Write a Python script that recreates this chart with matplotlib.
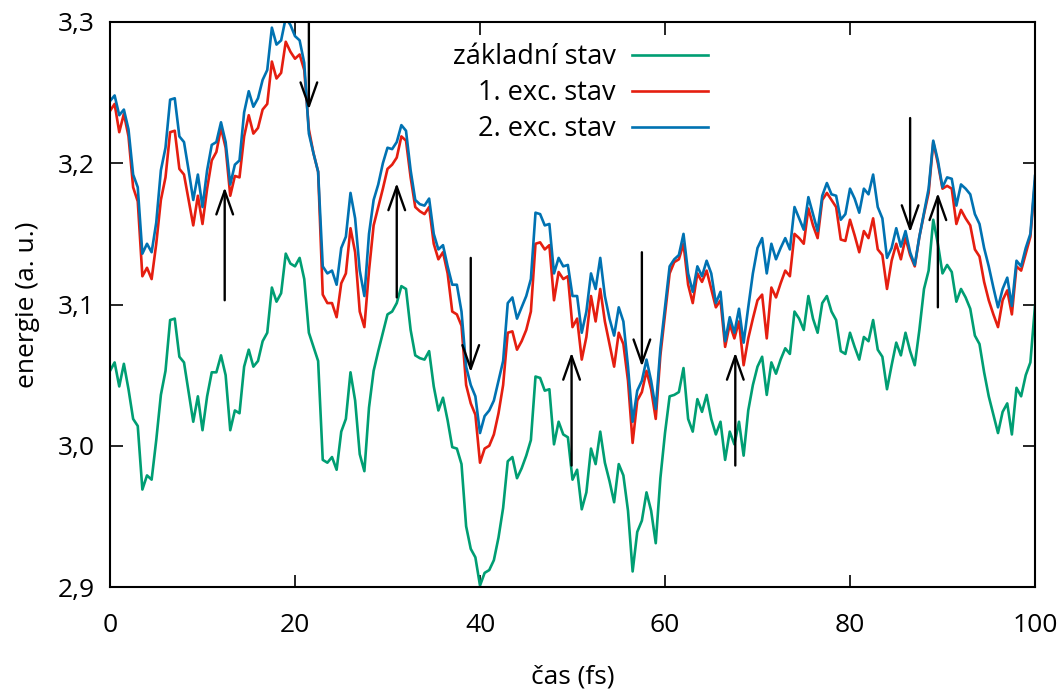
#Energie tri stavu v zavislosti na case, sipky znaci preskoky mezi stavy

import numpy as np
import matplotlib.pyplot as plt
from matplotlib.ticker import FuncFormatter

plt.rcParams['font.family'] = ['Open Sans', 'DejaVu Sans']

#casovy krok simulace (fs), hodnoty jsou po 0.5 fs od 0 do 100
dt = 0.5

#zakladni stav
ground = [3.053, 3.059, 3.042, 3.058, 3.040, 3.019, 3.014, 2.969, 2.979, 2.976,
          3.004, 3.036, 3.053, 3.089, 3.090, 3.063, 3.059, 3.038, 3.017, 3.035,
          3.011, 3.035, 3.052, 3.052, 3.064, 3.050, 3.011, 3.025, 3.023, 3.056,
          3.068, 3.056, 3.060, 3.074, 3.080, 3.112, 3.102, 3.108, 3.136, 3.129,
          3.127, 3.133, 3.118, 3.080, 3.070, 3.060, 2.990, 2.988, 2.992, 2.983,
          3.010, 3.019, 3.052, 3.032, 2.994, 2.982, 3.027, 3.053, 3.067, 3.080,
          3.093, 3.095, 3.101, 3.113, 3.111, 3.082, 3.064, 3.062, 3.061, 3.067,
          3.042, 3.025, 3.034, 3.018, 2.999, 2.998, 2.987, 2.943, 2.927, 2.921,
          2.901, 2.910, 2.912, 2.919, 2.935, 2.956, 2.989, 2.992, 2.977, 2.984,
          2.993, 3.004, 3.049, 3.048, 3.039, 3.040, 3.001, 3.017, 3.008, 3.006,
          2.976, 2.983, 2.955, 2.967, 2.998, 2.987, 3.010, 2.988, 2.975, 2.960,
          2.987, 2.979, 2.954, 2.911, 2.939, 2.947, 2.967, 2.954, 2.931, 2.977,
          3.009, 3.035, 3.036, 3.038, 3.055, 3.019, 3.010, 3.033, 3.024, 3.036,
          3.019, 3.008, 3.017, 2.990, 3.010, 3.001, 3.017, 2.993, 3.025, 3.043,
          3.056, 3.063, 3.036, 3.059, 3.051, 3.061, 3.069, 3.065, 3.095, 3.090,
          3.082, 3.106, 3.090, 3.080, 3.101, 3.106, 3.095, 3.089, 3.067, 3.065,
          3.080, 3.070, 3.061, 3.077, 3.074, 3.089, 3.068, 3.063, 3.040, 3.057,
          3.073, 3.064, 3.080, 3.067, 3.057, 3.082, 3.111, 3.124, 3.160, 3.143,
          3.122, 3.128, 3.123, 3.102, 3.111, 3.105, 3.097, 3.078, 3.072, 3.052,
          3.035, 3.022, 3.009, 3.024, 3.030, 3.008, 3.041, 3.035, 3.050, 3.059,
          3.099]

#1. excitovany stav
exc1 = [3.237, 3.242, 3.222, 3.235, 3.219, 3.183, 3.173, 3.120, 3.126, 3.118,
        3.143, 3.174, 3.190, 3.222, 3.223, 3.196, 3.192, 3.174, 3.156, 3.177,
        3.157, 3.182, 3.202, 3.208, 3.225, 3.211, 3.177, 3.191, 3.190, 3.219,
        3.234, 3.221, 3.225, 3.238, 3.242, 3.272, 3.260, 3.264, 3.286, 3.279,
        3.274, 3.277, 3.266, 3.224, 3.207, 3.194, 3.107, 3.101, 3.101, 3.091,
        3.115, 3.122, 3.154, 3.137, 3.095, 3.084, 3.124, 3.156, 3.169, 3.182,
        3.196, 3.199, 3.204, 3.219, 3.216, 3.190, 3.169, 3.166, 3.164, 3.169,
        3.143, 3.132, 3.137, 3.122, 3.095, 3.093, 3.085, 3.043, 3.030, 3.022,
        2.988, 2.998, 3.000, 3.008, 3.023, 3.043, 3.080, 3.081, 3.068, 3.074,
        3.082, 3.095, 3.143, 3.144, 3.139, 3.142, 3.103, 3.123, 3.118, 3.120,
        3.084, 3.090, 3.061, 3.077, 3.106, 3.088, 3.111, 3.088, 3.072, 3.056,
        3.080, 3.072, 3.046, 3.002, 3.032, 3.038, 3.053, 3.040, 3.019, 3.064,
        3.093, 3.122, 3.130, 3.132, 3.143, 3.114, 3.101, 3.122, 3.116, 3.124,
        3.111, 3.098, 3.103, 3.070, 3.086, 3.076, 3.088, 3.057, 3.076, 3.090,
        3.103, 3.107, 3.076, 3.112, 3.105, 3.115, 3.124, 3.120, 3.150, 3.147,
        3.143, 3.168, 3.156, 3.147, 3.174, 3.179, 3.174, 3.169, 3.146, 3.145,
        3.160, 3.149, 3.137, 3.152, 3.147, 3.161, 3.139, 3.135, 3.111, 3.131,
        3.143, 3.132, 3.147, 3.135, 3.127, 3.148, 3.164, 3.179, 3.215, 3.200,
        3.182, 3.184, 3.182, 3.157, 3.167, 3.161, 3.156, 3.139, 3.134, 3.116,
        3.103, 3.093, 3.084, 3.103, 3.110, 3.093, 3.127, 3.124, 3.136, 3.148,
        3.187]

#2. excitovany stav
exc2 = [3.244, 3.248, 3.234, 3.238, 3.224, 3.192, 3.183, 3.136, 3.143, 3.137,
        3.158, 3.195, 3.211, 3.245, 3.246, 3.219, 3.215, 3.195, 3.174, 3.192,
        3.169, 3.195, 3.213, 3.215, 3.229, 3.215, 3.185, 3.199, 3.202, 3.236,
        3.251, 3.240, 3.246, 3.259, 3.266, 3.296, 3.284, 3.287, 3.303, 3.298,
        3.290, 3.287, 3.271, 3.221, 3.207, 3.194, 3.127, 3.122, 3.124, 3.114,
        3.140, 3.148, 3.179, 3.161, 3.124, 3.106, 3.150, 3.174, 3.185, 3.200,
        3.211, 3.210, 3.215, 3.227, 3.223, 3.195, 3.174, 3.171, 3.170, 3.175,
        3.150, 3.139, 3.142, 3.127, 3.114, 3.114, 3.095, 3.056, 3.043, 3.035,
        3.009, 3.021, 3.025, 3.032, 3.046, 3.060, 3.101, 3.105, 3.090, 3.098,
        3.106, 3.118, 3.165, 3.164, 3.156, 3.157, 3.122, 3.133, 3.127, 3.128,
        3.106, 3.106, 3.080, 3.095, 3.122, 3.111, 3.133, 3.106, 3.090, 3.078,
        3.098, 3.088, 3.056, 3.017, 3.039, 3.046, 3.061, 3.046, 3.026, 3.069,
        3.098, 3.127, 3.132, 3.135, 3.150, 3.122, 3.109, 3.127, 3.120, 3.131,
        3.122, 3.101, 3.109, 3.074, 3.091, 3.080, 3.097, 3.073, 3.098, 3.122,
        3.140, 3.147, 3.122, 3.143, 3.132, 3.140, 3.147, 3.139, 3.169, 3.161,
        3.153, 3.176, 3.164, 3.152, 3.177, 3.186, 3.178, 3.177, 3.160, 3.164,
        3.182, 3.175, 3.165, 3.182, 3.178, 3.192, 3.169, 3.161, 3.133, 3.140,
        3.154, 3.141, 3.152, 3.137, 3.128, 3.148, 3.165, 3.182, 3.216, 3.202,
        3.183, 3.190, 3.189, 3.170, 3.185, 3.182, 3.178, 3.164, 3.157, 3.140,
        3.127, 3.112, 3.098, 3.111, 3.119, 3.099, 3.131, 3.127, 3.140, 3.150,
        3.191]

#preskoky: cas, odkud (energie) a kam
hop_t = [12.4, 21.5, 31.0, 39.0, 49.9, 57.5, 67.6, 86.5, 89.5]
hop_from = [3.103, 3.300, 3.105, 3.133, 2.986, 3.137, 2.986, 3.232, 3.098]
hop_to = [3.183, 3.238, 3.186, 3.052, 3.066, 3.056, 3.066, 3.151, 3.179]

times = np.arange(len(ground))*dt

fig = plt.figure(figsize=(10.64, 6.90), dpi=100)
ax = fig.add_axes([110/1064, 1-587/690, 925/1064, 565/690])

ax.plot(times, ground, color='#009e73', lw=1.9, label='základní stav')
ax.plot(times, exc1, color='#e51e10', lw=1.9, label='1. exc. stav')
ax.plot(times, exc2, color='#0072b2', lw=1.9, label='2. exc. stav')

for i in range(len(hop_t)):
    ax.annotate('', xy=(hop_t[i], hop_to[i]), xytext=(hop_t[i], hop_from[i]),
                arrowprops=dict(arrowstyle='->,head_length=0.85,head_width=0.3',
                                color='black', lw=1.7, shrinkA=0, shrinkB=0,
                                mutation_scale=20))

ax.set_xlim(0, 100)
ax.set_ylim(2.9, 3.3)
ax.set_xticks([0, 20, 40, 60, 80, 100])
ax.set_yticks([2.9, 3.0, 3.1, 3.2, 3.3])
ax.yaxis.set_major_formatter(FuncFormatter(lambda v, p: ('%.1f' % v).replace('.', ',')))
ax.tick_params(direction='in', top=True, right=True, length=9, width=1.2, labelsize=19)
ax.tick_params(axis='x', pad=19)
ax.tick_params(axis='y', pad=11)
for s in ax.spines.values():
    s.set_linewidth(1.5)

ax.set_xlabel('čas (fs)', fontsize=19, labelpad=19)
ax.set_ylabel('energie (a. u.)', fontsize=19, labelpad=13)

ax.legend(loc='upper right', bbox_to_anchor=(708/1064, 1-43/690), bbox_transform=fig.transFigure,
          frameon=False, markerfirst=False, handlelength=2.8, handletextpad=0.6,
          labelspacing=0.3, borderpad=0, borderaxespad=0, fontsize=19.5)

plt.savefig('out.png', dpi=100)
